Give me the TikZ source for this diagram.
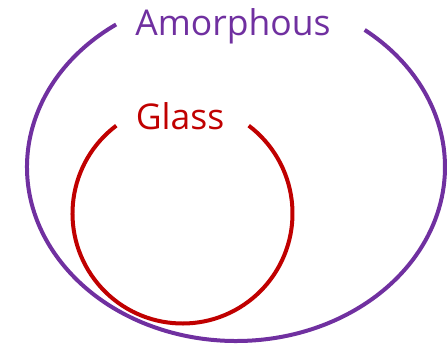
\documentclass[tikz,border=0pt]{standalone}
\usepackage{fontspec}
\setmainfont{Open Sans}
\definecolor{amorph}{HTML}{7030A0}
\definecolor{glasscol}{HTML}{C00000}
\begin{document}
\begin{tikzpicture}[x=1pt,y=1pt,
  ring/.style={line width=4pt},
  lbl/.style={font=\fontsize{35.5}{36}\selectfont, inner sep=0pt, anchor=base}]
\useasboundingbox (0,0) rectangle (448,346);
\coordinate (cA) at (236,179);
\coordinate (cG) at (182.5,132.5);
\draw[ring, amorph] (cA) ++(125:209pt and 174pt) arc[start angle=125, end angle=412, x radius=209pt, y radius=174pt];
\draw[ring, glasscol] (cG) ++(127:110pt) arc[start angle=127, end angle=413, radius=110pt];
\node[lbl, text=amorph] (amorphous) at (233,310) {Amorphous};
\node[lbl, text=glasscol] (glass) at (180,216) {Glass};
\end{tikzpicture}
\end{document}
